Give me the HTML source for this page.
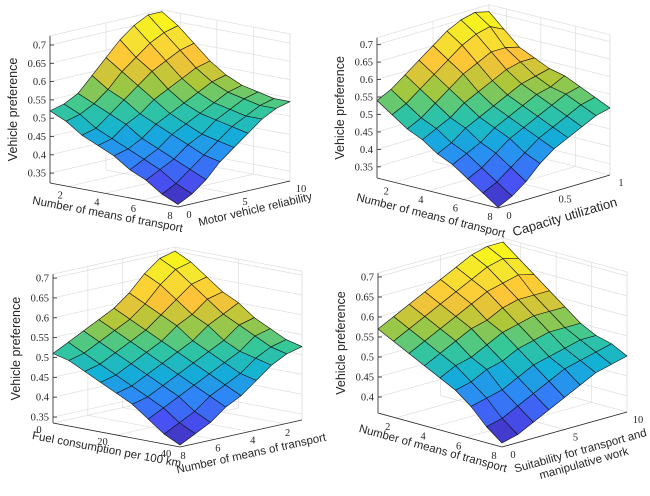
<!DOCTYPE html>
<html><head><meta charset="utf-8"><style>
body{margin:0;background:#fff}
svg{display:block}
text{font-family:"Liberation Sans",sans-serif;fill:#262626}
.tk{font-family:"Liberation Serif",serif;font-size:10.5px}
.tt{font-size:11.5px}
</style></head><body>
<svg id="chart" width="650" height="496" viewBox="0 0 650 496" xmlns="http://www.w3.org/2000/svg"></svg>
<script>
// Surface data (rows: along left->front axis, columns: along front->right axis)
const surf1 = [
[.52,.53,.55,.59,.63,.67,.70,.72,.72],
[.50,.51,.53,.56,.60,.63,.66,.68,.69],
[.47,.48,.51,.54,.57,.60,.62,.64,.65],
[.45,.46,.49,.51,.54,.56,.58,.60,.61],
[.43,.44,.46,.49,.51,.53,.55,.57,.58],
[.40,.42,.44,.47,.49,.51,.53,.55,.56],
[.38,.40,.42,.45,.47,.50,.52,.54,.55],
[.35,.37,.40,.43,.46,.49,.51,.53,.54],
[.33,.35,.38,.42,.45,.48,.51,.53,.54]];
const surf2 = [
[.54,.56,.59,.62,.65,.68,.70,.71,.70],
[.51,.53,.56,.59,.62,.65,.67,.68,.66],
[.48,.50,.53,.56,.59,.61,.63,.63,.62],
[.46,.48,.50,.53,.55,.57,.59,.60,.60],
[.43,.45,.48,.50,.52,.54,.56,.57,.58],
[.41,.43,.45,.48,.50,.52,.54,.55,.57],
[.38,.40,.43,.46,.48,.50,.52,.54,.55],
[.35,.37,.40,.43,.46,.48,.50,.52,.53],
[.32,.34,.37,.41,.44,.46,.48,.50,.51]];
const surf3 = [
[.51,.53,.55,.57,.59,.62,.66,.69,.70],
[.50,.51,.53,.55,.57,.60,.64,.67,.68],
[.48,.49,.51,.53,.55,.58,.61,.64,.65],
[.46,.47,.49,.51,.53,.56,.58,.61,.62],
[.44,.45,.47,.49,.51,.53,.56,.58,.60],
[.42,.43,.45,.47,.49,.51,.53,.56,.57],
[.39,.41,.43,.45,.47,.49,.51,.54,.55],
[.36,.38,.40,.43,.45,.47,.50,.52,.53],
[.34,.36,.38,.41,.43,.46,.49,.51,.52]];
const surf4 = [
[.57,.59,.61,.63,.65,.67,.69,.70,.70],
[.55,.57,.59,.61,.63,.65,.67,.68,.67],
[.53,.55,.57,.59,.61,.63,.64,.65,.64],
[.51,.53,.55,.57,.58,.60,.61,.61,.61],
[.49,.51,.52,.54,.56,.57,.58,.58,.58],
[.47,.48,.50,.51,.53,.54,.55,.55,.55],
[.44,.45,.46,.48,.50,.51,.52,.53,.53],
[.40,.41,.43,.45,.47,.49,.50,.51,.52],
[.37,.38,.40,.42,.44,.46,.48,.49,.50]];
const zTicks1 = [0.35,0.4,0.45,0.5,0.55,0.6,0.65,0.7];
const zTicks4 = [0.4,0.45,0.5,0.55,0.6,0.65,0.7];
const xTicksMeans = [2,4,6,8];
const yTicks10 = [0,5,10];
const yTicksCap = [0,0.5,1];
const xTicksFuel = [0,20,40];

const NS="http://www.w3.org/2000/svg";
const svg=document.getElementById('chart');
function mk(tag,parent){const e=document.createElementNS(NS,tag);parent.appendChild(e);return e;}
const parula=[[62,38,168],[72,82,244],[46,135,247],[18,177,214],[55,200,151],[171,199,57],[254,195,56],[245,228,48],[249,251,20]];
function cmap(t){t=Math.max(0,Math.min(1,t))*8;const i=Math.min(7,Math.floor(t)),f=t-i;const a=parula[i],b=parula[i+1];
return `rgb(${a.map((v,k)=>Math.round(v+(b[k]-v)*f)).join(',')})`;}

const plots=[
{id:'p1',data:surf1,L:[50,183],F:[178,207],R:[290,181],zmin:.323,zmax:.725,k:366,zt:zTicks1,
 xr:[1,8],xt:xTicksMeans,xo:[-8,9],yr:[0,10],yt:yTicks10,yo:[11,8],
 xl:'Number of means of transport',xc:[107,218],yl:['Motor vehicle reliability'],yc:[256,213]},
{id:'p2',data:surf2,L:[377,178],F:[498,208],R:[610,175],zmin:.318,zmax:.72,k:349,zt:zTicks1,
 xr:[1,8],xt:xTicksMeans,xo:[-8,9],yr:[0,1],yt:yTicksCap,yo:[11,8],
 xl:'Number of means of transport',xc:[430,219],yl:['Capacity utilization'],yc:[566,221],big:true},
{id:'p3',data:surf3,L:[53,423],F:[180,447],R:[302,420],zmin:.335,zmax:.71,k:397,zt:zTicks1,
 xr:[0,40],xt:xTicksFuel,xo:[-14,7],yr:[8,1],yt:[8,6,4,2],yo:[3,9],
 xl:'Fuel consumption per 100 km',xc:[106,453],yl:['Number of means of transport'],yc:[252,457]},
{id:'p4',data:surf4,L:[378,413],F:[502,447],R:[627,412],zmin:.36,zmax:.71,k:400,zt:zTicks4,
 xr:[1,8],xt:xTicksMeans,xo:[-8,9],yr:[0,10],yt:yTicks10,yo:[11,8],
 xl:'Number of means of transport',xc:[432,452],yl:['Suitability for transport and','manipulative work'],yc:[583,460]}
];

plots.forEach((P,pi)=>{
 const g=mk('g',svg);
 
 
 const L=P.L,F=P.F,R=P.R;
 const pt=(a,b,z)=>[L[0]+a*(F[0]-L[0])+b*(R[0]-F[0]), L[1]+a*(F[1]-L[1])+b*(R[1]-F[1])-(z-P.zmin)*P.k];
 const line=(p,q,col,w,name)=>{const l=mk('line',g);l.setAttribute('x1',p[0]);l.setAttribute('y1',p[1]);l.setAttribute('x2',q[0]);l.setAttribute('y2',q[1]);l.setAttribute('stroke',col);l.setAttribute('stroke-width',w);
  
  return l;};
 const ax=v=>(v-P.xr[0])/(P.xr[1]-P.xr[0]);
 const by=v=>(v-P.yr[0])/(P.yr[1]-P.yr[0]);
 const gc='#dedede';
 P.zt.forEach(z=>{line(pt(0,0,z),pt(0,1,z),gc,.7,'z-gridline');line(pt(0,1,z),pt(1,1,z),gc,.7,'z-gridline');});
 P.xt.forEach(x=>{const a=ax(x);line(pt(a,0,P.zmin),pt(a,1,P.zmin),gc,.7,'x-gridline');line(pt(a,1,P.zmin),pt(a,1,P.zmax),gc,.7,'x-gridline');});
 P.yt.forEach(y=>{const b=by(y);line(pt(0,b,P.zmin),pt(1,b,P.zmin),gc,.7,'y-gridline');line(pt(0,b,P.zmin),pt(0,b,P.zmax),gc,.7,'y-gridline');});
 line(pt(0,1,P.zmin),pt(0,1,P.zmax),gc,.7,'box-edge');
 line(pt(1,1,P.zmin),pt(1,1,P.zmax),gc,.7,'box-edge');
 line(pt(0,0,P.zmax),pt(0,1,P.zmax),gc,.7,'box-edge');
 line(pt(0,1,P.zmax),pt(1,1,P.zmax),gc,.7,'box-edge');
 const D=P.data,n=D.length-1,m=D[0].length-1;
 let lo=1,hi=0;D.forEach(r=>r.forEach(v=>{lo=Math.min(lo,v);hi=Math.max(hi,v);}));
 const quads=[];
 for(let i=0;i<n;i++)for(let j=0;j<m;j++)quads.push([i,j]);
 quads.sort((p,q)=>((n-q[0])+q[1])-((n-p[0])+p[1]));
 quads.forEach(([i,j])=>{
  const c=[[i,j],[i+1,j],[i+1,j+1],[i,j+1]].map(([a,b])=>pt(a/n,b/m,D[a][b]));
  const avg=(D[i][j]+D[i+1][j]+D[i+1][j+1]+D[i][j+1])/4;
  const poly=mk('polygon',g);
  poly.setAttribute('points',c.map(p=>p.join(',')).join(' '));
  poly.setAttribute('fill',cmap((avg-lo)/(hi-lo)));
  poly.setAttribute('stroke','#111');poly.setAttribute('stroke-width','0.6');poly.setAttribute('stroke-linejoin','round');
  
  
 });
 const ac='#262626';
 line(pt(0,0,P.zmin),pt(0,0,P.zmax),ac,.8,'z-axis-line');
 line(pt(0,0,P.zmin),pt(1,0,P.zmin),ac,.8,'x-axis-line');
 line(pt(1,0,P.zmin),pt(1,1,P.zmin),ac,.8,'y-axis-line');
 const txt=(s,x,y,cls,anchor,name)=>{const t=mk('text',g);t.textContent=s;t.setAttribute('x',x);t.setAttribute('y',y);t.setAttribute('class',cls);t.setAttribute('text-anchor',anchor);
  
  return t;};
 P.zt.forEach(z=>{const p=pt(0,0,z);line(p,[p[0]+4,p[1]],ac,.8,'z-tick');txt(String(z),p[0]-4,p[1]+3.5,'tk','end','z-tick-label');});
 P.xt.forEach(x=>{const p=pt(ax(x),0,P.zmin);txt(String(x),p[0]+P.xo[0],p[1]+P.xo[1]+3,'tk','middle','x-tick-label');});
 P.yt.forEach(y=>{const p=pt(1,by(y),P.zmin);txt(String(y),p[0]+P.yo[0],p[1]+P.yo[1]+3,'tk','middle','y-tick-label');});
 const angX=Math.atan2(F[1]-L[1],F[0]-L[0])*180/Math.PI;
 const angY=Math.atan2(R[1]-F[1],R[0]-F[0])*180/Math.PI;
 const tx=txt(P.xl,P.xc[0],P.xc[1],'tt','middle','x-axis-title');
 tx.setAttribute('transform',`rotate(${angX} ${P.xc[0]} ${P.xc[1]})`);
 const ty=mk('text',g);
 
 
 ty.setAttribute('class','tt');ty.setAttribute('text-anchor','middle');
 if(P.big)ty.setAttribute('style','font-size:13px');
 ty.setAttribute('transform',`rotate(${angY} ${P.yc[0]} ${P.yc[1]})`);
 P.yl.forEach((s,k)=>{const ts=mk('tspan',ty);ts.textContent=s;ts.setAttribute('x',P.yc[0]);ts.setAttribute('y',P.yc[1]+k*13-(P.yl.length-1)*6);});
 const zc=[L[0]-33,(pt(0,0,P.zmin)[1]+pt(0,0,P.zmax)[1])/2];
 const tz=txt('Vehicle preference',zc[0],zc[1],'tt','middle','z-axis-title');
 tz.setAttribute('style','font-size:12.5px');
 tz.setAttribute('transform',`rotate(-90 ${zc[0]} ${zc[1]})`);
});
</script>
</body></html>
